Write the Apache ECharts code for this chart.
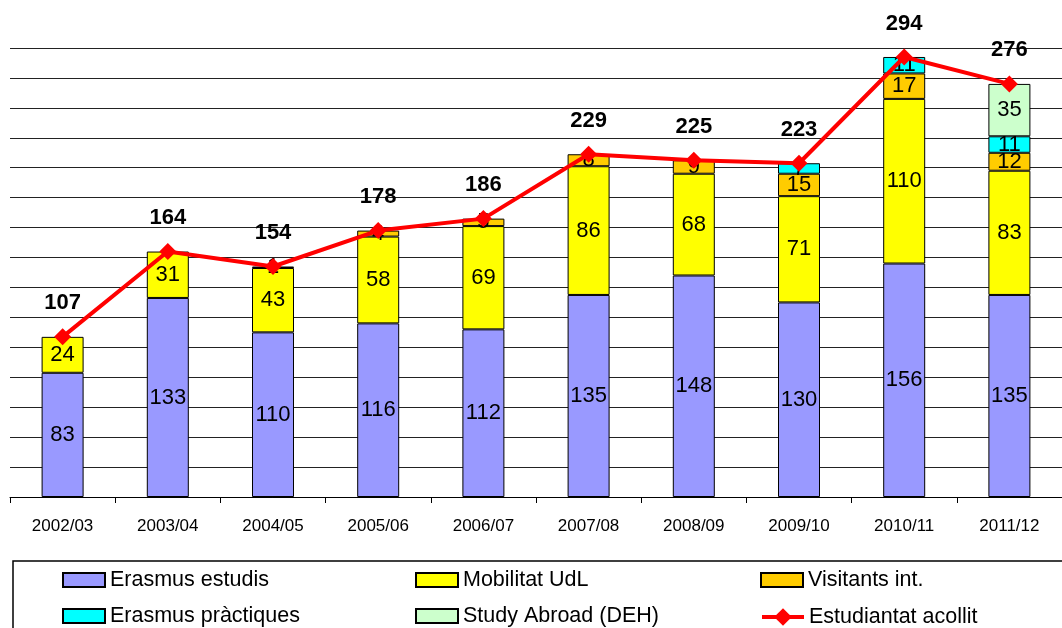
<!DOCTYPE html>
<html>
<head>
<meta charset="utf-8">
<script src="https://cdn.jsdelivr.net/npm/echarts@6/dist/echarts.min.js"></script>
<style>
  html, body { margin: 0; padding: 0; background: #fff; }
  #chart { width: 1062px; height: 628px; }
</style>
</head>
<body>
<div id="chart"></div>
<script>
  // curs academic
  var cursos = ['2002/03', '2003/04', '2004/05', '2005/06', '2006/07', '2007/08', '2008/09', '2009/10', '2010/11', '2011/12'];

  var erasmusEstudis = [83, 133, 110, 116, 112, 135, 148, 130, 156, 135];
  var mobilitatUdL = [24, 31, 43, 58, 69, 86, 68, 71, 110, 83];
  var visitantsInt = [null, null, 1, 4, 5, 8, 9, 15, 17, 12];
  var erasmusPractiques = [null, null, null, null, null, null, null, 7, 11, 11];
  var studyAbroad = [null, null, null, null, null, null, null, null, null, 35];
  var estudiantatAcollit = [107, 164, 154, 178, 186, 229, 225, 223, 294, 276];

  var chart = echarts.init(document.getElementById('chart'));

  var segLabel = {
    show: true,
    position: 'inside',
    color: '#000',
    fontFamily: 'Liberation Sans, Arial',
    fontSize: 22
  };

  function barSerie(name, data, color) {
    return {
      name: name,
      type: 'bar',
      stack: 'total',
      barWidth: 42,
      data: data,
      itemStyle: { color: color, borderColor: '#000', borderWidth: 1 },
      label: segLabel,
      emphasis: { disabled: true }
    };
  }

  var legendText = { fontFamily: 'Liberation Sans, Arial', fontSize: 21.5, lineHeight: 20, color: '#000' };

  function legendCol(left, top, items, h) {
    return {
      orient: 'vertical',
      left: left,
      top: top,
      height: 120,
      itemWidth: 42,
      itemHeight: h || 14,
      itemGap: 14,
      textStyle: legendText,
      data: items
    };
  }

  var option = {
    animation: false,
    grid: { left: 10, top: 48, width: 1070, height: 449 },
    xAxis: {
      type: 'category',
      data: cursos,
      axisLine: { lineStyle: { color: '#000', width: 1 } },
      axisTick: { show: true, length: 6, lineStyle: { color: '#000' } },
      axisLabel: { color: '#000', fontFamily: 'Liberation Sans, Arial', fontSize: 17, margin: 21 }
    },
    yAxis: {
      type: 'value',
      min: 0,
      max: 300,
      interval: 20,
      axisLabel: { show: false },
      axisLine: { show: false },
      axisTick: { show: false },
      splitLine: { lineStyle: { color: '#222', width: 1 } }
    },
    legend: [
      legendCol(57, 564, [{ name: 'Erasmus estudis', icon: 'rect' }, { name: 'Erasmus pràctiques', icon: 'rect' }]),
      legendCol(410, 564, [{ name: 'Mobilitat UdL', icon: 'rect' }, { name: 'Study Abroad (DEH)', icon: 'rect' }]),
      legendCol(755, 564, [{ name: 'Visitants int.', icon: 'rect' }]),
      legendCol(755, 601, [{ name: 'Estudiantat acollit', lineStyle: { width: 4 } }], 22)
    ],
    graphic: [{
      type: 'rect',
      shape: { x: 13, y: 561, width: 1100, height: 100 },
      style: { fill: 'none', stroke: '#000', lineWidth: 1.5 },
      z: -1
    }],
    series: [
      barSerie('Erasmus estudis', erasmusEstudis, '#9999FF'),
      barSerie('Mobilitat UdL', mobilitatUdL, '#FFFF00'),
      barSerie('Visitants int.', visitantsInt, '#FFCC00'),
      barSerie('Erasmus pràctiques', erasmusPractiques, '#00FFFF'),
      barSerie('Study Abroad (DEH)', studyAbroad, '#CCFFCC'),
      {
        name: 'Estudiantat acollit',
        type: 'line',
        data: estudiantatAcollit,
        symbol: 'diamond',
        symbolSize: 17,
        itemStyle: { color: '#FF0000' },
        lineStyle: { color: '#FF0000', width: 4 },
        label: {
          show: true,
          position: 'top',
          distance: 14,
          color: '#000',
          fontWeight: 'bold',
          fontFamily: 'Liberation Sans, Arial',
          fontSize: 22
        },
        z: 5,
        emphasis: { disabled: true }
      }
    ]
  };

  chart.setOption(option);
</script>
</body>
</html>
